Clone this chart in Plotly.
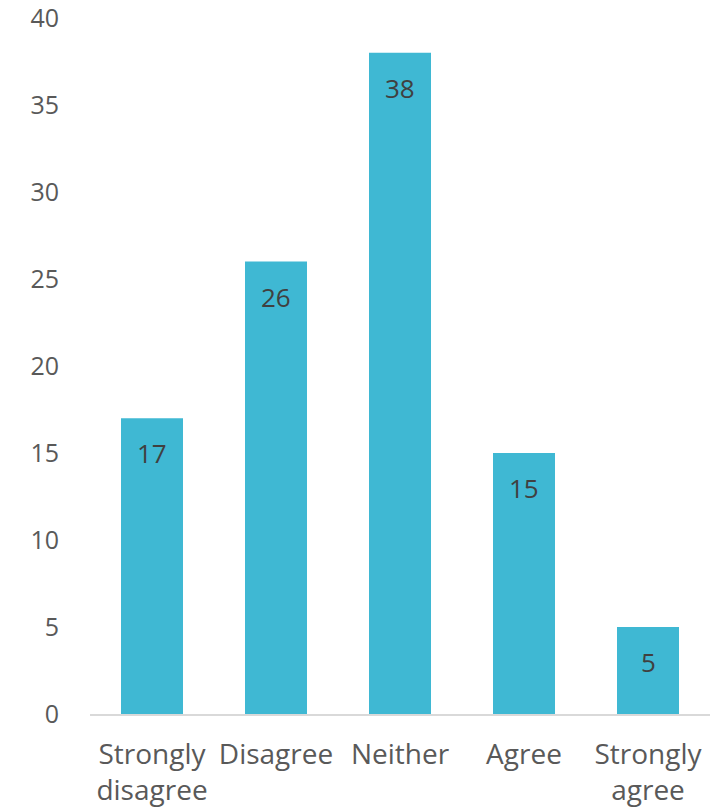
import plotly.graph_objects as go

# Survey responses per answer option
categories = ["Strongly disagree", "Disagree", "Neither", "Agree", "Strongly agree"]
tick_labels = ["Strongly<br>disagree", "Disagree", "Neither", "Agree", "Strongly<br>agree"]
counts = [17, 26, 38, 15, 5]
y_ticks = [0, 5, 10, 15, 20, 25, 30, 35, 40]

BAR_COLOR = "#3FB8D3"
TEXT_COLOR = "#595959"
LABEL_COLOR = "#404040"
FONT = "Open Sans, Lato, sans-serif"

fig = go.Figure()
fig.add_trace(go.Bar(
    x=categories,
    y=counts,
    marker=dict(color=BAR_COLOR, line=dict(width=0)),
    width=0.5,
    hoverinfo="skip",
))

# Value labels sit inside each bar, just below its top
for cat, val in zip(categories, counts):
    fig.add_annotation(
        x=cat, y=val, text=str(val),
        showarrow=False, yanchor="middle", yshift=-35,
        font=dict(family=FONT, size=26, color=LABEL_COLOR),
    )

fig.update_layout(
    width=726, height=811,
    margin=dict(l=90, r=16, t=18, b=97),
    paper_bgcolor="white", plot_bgcolor="white",
    showlegend=False,
    font=dict(family=FONT, size=24, color=TEXT_COLOR),
)
fig.update_xaxes(
    tickmode="array", tickvals=categories, ticktext=tick_labels,
    showline=True, linecolor="#D9D9D9", linewidth=2,
    ticks="", showgrid=False, zeroline=False, automargin=False,
    ticklabelstandoff=14,
    tickfont=dict(family=FONT, size=28, color=TEXT_COLOR),
)
fig.update_yaxes(
    range=[0, 40], tickvals=y_ticks,
    showline=False, showgrid=False, zeroline=False, ticks="", automargin=False,
    ticklabelstandoff=30, ticklabeloverflow="allow",
    tickfont=dict(family=FONT, size=25, color=TEXT_COLOR),
)

fig.write_html("out.html")
